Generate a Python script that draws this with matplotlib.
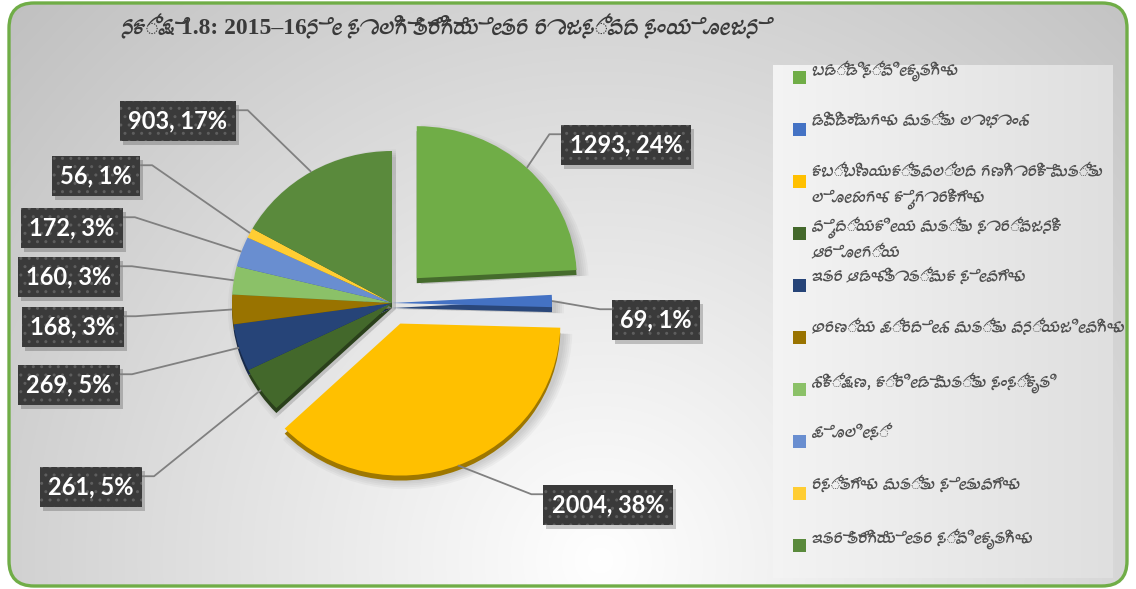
import matplotlib.pyplot as plt
import numpy as np
from matplotlib import font_manager
from matplotlib.ft2font import FT2Font
from matplotlib.patches import Wedge, Rectangle, FancyBboxPatch
from matplotlib.transforms import Affine2D

# data (clockwise from 12 o'clock)
categories = [
    "ಬಡ್ಡಿ ಸ್ವೀಕೃತಿಗಳು",
    "ಡಿವಿಡೆಂಡುಗಳು ಮತ್ತು ಲಾಭಾಂಶ",
    "ಕಬ್ಬಿಣಯುಕ್ತವಲ್ಲದ ಗಣಿಗಾರಿಕೆ ಮತ್ತು\nಲೋಹಗಳ ಕೈಗಾರಿಕೆಗಳು",
    "ವೈದ್ಯಕೀಯ ಮತ್ತು ಸಾರ್ವಜನಿಕ\nಆರೋಗ್ಯ",
    "ಇತರ ಆಡಳಿತಾತ್ಮಕ ಸೇವೆಗಳು",
    "ಅರಣ್ಯ ಪ್ರದೇಶ ಮತ್ತು ವನ್ಯಜೀವಿಗಳು",
    "ಶಿಕ್ಷಣ, ಕ್ರೀಡೆ ಮತ್ತು ಸಂಸ್ಕೃತಿ",
    "ಪೊಲೀಸ್",
    "ರಸ್ತೆಗಳು ಮತ್ತು ಸೇತುವೆಗಳು",
    "ಇತರೆ ತೆರಿಗೆಯೇತರ ಸ್ವೀಕೃತಿಗಳು",
]
values = [1293, 69, 2004, 261, 269, 168, 160, 172, 56, 903]
pcts = [24, 1, 38, 5, 5, 3, 3, 3, 1, 17]
title = "ನಕ್ಷೆ 1.8: 2015–16ನೇ ಸಾಲಿಗೆ ತೆರಿಗೆಯೇತರ ರಾಜಸ್ವದ ಸಂಯೋಜನೆ"

colors = ['#70AD47', '#4472C4', '#FFC000', '#43682B', '#264478',
          '#997300', '#8BC168', '#698ED0', '#FFCD33', '#5A8A3C']
explode_frac = [0.225, 0, 0.145, 0, 0, 0, 0, 0, 0, 0]

# layout, in pixels (y grows downwards)
W, H = 1136, 589
cx, cy, R, sy = 392, 303, 160, 0.95
label_pos = [(626, 145), (656, 320), (608, 505), (91, 487), (69, 385),
             (73, 327), (69, 277), (72, 228), (96, 176), (178, 121)]

# look for an installed font that can draw Kannada
kn = []
for f in font_manager.fontManager.ttflist:
    try:
        if 0x0C95 in FT2Font(f.fname).get_charmap():
            kn.append(f.name)
    except Exception:
        pass
kn = sorted(set(kn))
sans = kn[:1] + ['DejaVu Sans']
serif = ['Liberation Serif'] + kn[:1] + ['DejaVu Sans']

fig = plt.figure(figsize=(W / 100, H / 100), dpi=100)
ax = fig.add_axes([0, 0, 1, 1])

# background: grey radial gradient inside a rounded green frame
yy, xx = np.mgrid[0:H, 0:W]
d = np.hypot(xx - 600, yy - 560) / 820
g = np.clip(1 - 0.25 * d, 0, 1)
bg = ax.imshow(np.dstack([g, g, g]), extent=(0, W, H, 0), origin='upper', zorder=0)
frame = FancyBboxPatch((9, 3), 1118, 583, boxstyle='round,pad=0,rounding_size=25',
                       fc='none', ec='#70AD47', lw=2.4, zorder=10)
ax.add_patch(frame)
bg.set_clip_path(frame)

# lighter legend panel
lg = np.linspace(0.955, 0.875, 200)
lp = ax.imshow(np.dstack([np.tile(lg, (2, 1))] * 3), extent=(773, 1113, 578, 65),
               origin='upper', aspect='auto', zorder=1)
lp.set_clip_path(frame)

base = Affine2D().translate(-cx, -cy).scale(1, sy)
tr_top = base + Affine2D().translate(cx, cy) + ax.transData
tr_depth = base + Affine2D().translate(cx, cy + 5) + ax.transData
tr_shadow = base + Affine2D().translate(cx + 4, cy + 6) + ax.transData

wedges, _ = ax.pie(values, colors=colors, explode=[e * R for e in explode_frac],
                   radius=R, center=(cx, cy), startangle=-90, counterclock=True,
                   wedgeprops=dict(lw=0))
ax.set_xlim(0, W)
ax.set_ylim(H, 0)
ax.set_aspect('auto')
ax.axis('off')

for w, c in zip(wedges, colors):
    w.set_transform(tr_top)
    w.set_zorder(5)
    # soft shadow
    for k in range(5):
        s = Wedge(w.center, w.r + 2 * k, w.theta1, w.theta2, fc='black', ec='none',
                  alpha=0.03, zorder=2)
        s.set_transform(tr_shadow)
        ax.add_patch(s)
    # 3d depth edge
    rgb = np.array(plt.matplotlib.colors.to_rgb(c)) * 0.62
    dw = Wedge(w.center, w.r, w.theta1, w.theta2, fc=rgb, ec='none', zorder=4)
    dw.set_transform(tr_depth)
    ax.add_patch(dw)

# data labels
texts = []
for v, p, (lx, ly) in zip(values, pcts, label_pos):
    t = ax.text(lx, ly, f"{v}, {p}%", fontsize=17, fontweight='bold', family='Lato',
                color='white', ha='center', va='center', zorder=7,
                bbox=dict(boxstyle='square,pad=0.35', fc='#3a3a3a', ec='#5e5e5e',
                          lw=0, hatch='..'))
    texts.append(t)

fig.canvas.draw()
renderer = fig.canvas.get_renderer()

# leader lines and box shadows
for w, t, (lx, ly) in zip(wedges, texts, label_pos):
    bb = t.get_bbox_patch().get_window_extent(renderer).transformed(ax.transData.inverted())
    x0, x1 = sorted([bb.x0, bb.x1])
    top, bot = sorted([bb.y0, bb.y1])
    ax.add_patch(Rectangle((x0 + 3, top + 4), x1 - x0, bot - top, fc='black', ec='none',
                           alpha=0.2, zorder=6))
    tm = np.deg2rad((w.theta1 + w.theta2) / 2)
    px = w.center[0] + w.r * np.cos(tm)
    py = cy + (w.center[1] + w.r * np.sin(tm) - cy) * sy
    if lx < cx:
        ex, elx = x1, x1 + 12
    else:
        ex, elx = x0, x0 - 12
    ax.plot([ex, elx, px], [top + 9, top + 9, py], color='#808080', lw=1.3, zorder=6,
            solid_capstyle='butt')

# legend
for i, (lab, c) in enumerate(zip(categories, colors)):
    y = 77 + 52 * i
    ax.add_patch(Rectangle((793, y - 6.5), 13, 13, fc=c, ec='none', zorder=6))
    ax.text(812, y - 17, lab, fontsize=12.5, color='#505050', ha='left', va='top',
            family=sans, linespacing=1.5, zorder=6)

ax.text(440, 27, title, fontsize=17, fontweight='bold', color='#3a3a3a',
        family=serif, ha='center', va='center', zorder=6)

fig.savefig('out.png', dpi=100)
